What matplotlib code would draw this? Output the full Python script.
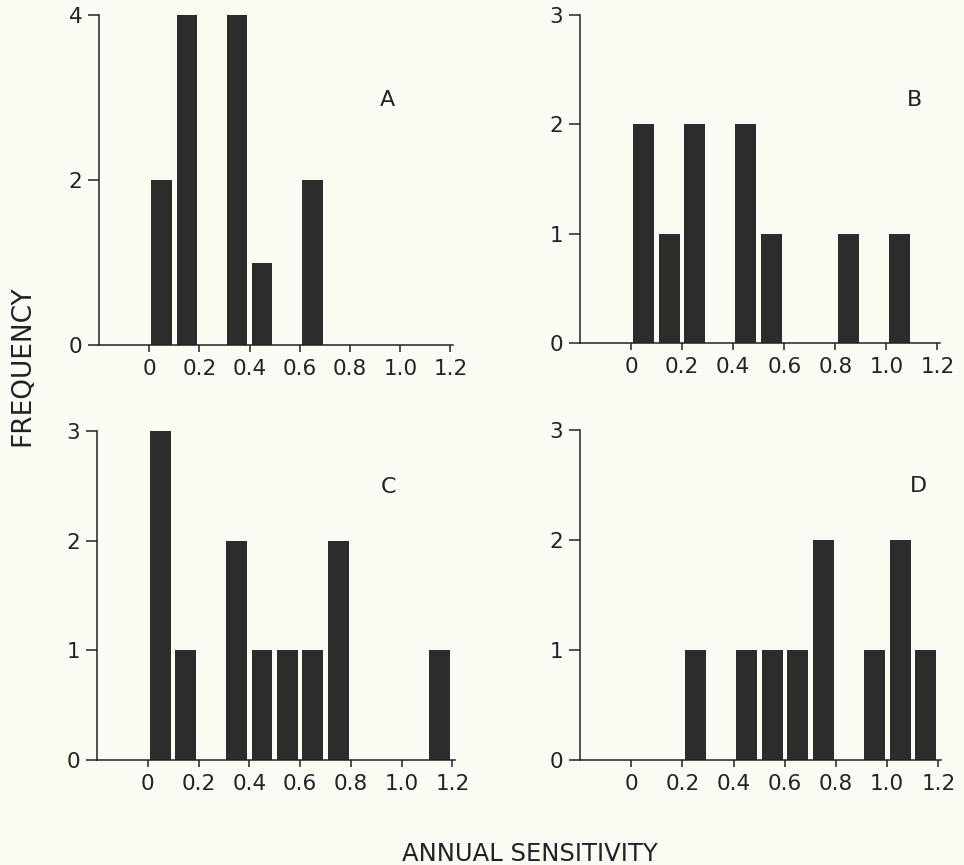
import numpy as np
import matplotlib.pyplot as plt

plt.rcParams['font.family'] = ['DejaVu Sans']

# bin centres of annual sensitivity (0.1 wide bins)
bins = np.arange(0.05, 1.2, 0.1)
freq_a = [2, 4, 0, 4, 1, 0, 2, 0, 0, 0, 0, 0]
freq_b = [2, 1, 2, 0, 2, 1, 0, 0, 1, 0, 1, 0]
freq_c = [3, 1, 0, 2, 1, 1, 1, 2, 0, 0, 0, 1]
freq_d = [0, 0, 1, 0, 1, 1, 1, 2, 0, 1, 2, 1]
panel_names = ["A", "B", "C", "D"]
ymax = [4, 3, 3, 3]
yticks = [[0, 2, 4], [0, 1, 2, 3], [0, 1, 2, 3], [0, 1, 2, 3]]
xticks = [0, 0.2, 0.4, 0.6, 0.8, 1.0, 1.2]
xlabels = ["0", "0.2", "0.4", "0.6", "0.8", "1.0", "1.2"]

bg = "#fbfbf4"
bar_col = "#2e2c2a"
ink = "#222222"

fig = plt.figure(figsize=(9.64, 8.65), dpi=100, facecolor=bg)
W, H = 964, 865
# axes boxes in pixels: left, right, top, bottom
boxes = [(99, 453, 15, 345), (580, 940, 15, 343),
         (97, 455, 431, 760), (580, 941, 430, 760)]
label_pos = [(0.95, 2.97), (1.11, 2.22), (0.95, 2.49), (1.12, 2.49)]

for i, f in enumerate([freq_a, freq_b, freq_c, freq_d]):
    l, r, t, b = boxes[i]
    ax = fig.add_axes([l / W, 1 - b / H, (r - l) / W, (b - t) / H])
    ax.set_facecolor(bg)
    ax.bar(bins, f, width=0.082, color=bar_col, edgecolor="none")
    ax.set_xlim(-0.2, 1.21)
    ax.set_ylim(0, ymax[i])
    ax.spines["top"].set_visible(False)
    ax.spines["right"].set_visible(False)
    for s in ["left", "bottom"]:
        ax.spines[s].set_linewidth(1.1)
        ax.spines[s].set_color(ink)
    ax.set_xticks(xticks)
    ax.set_xticklabels(xlabels)
    ax.set_yticks(yticks[i])
    ax.tick_params(axis="both", direction="out", width=1.1,
                   labelsize=15.5, colors=ink)
    ax.tick_params(axis="x", length=5, pad=5)
    ax.tick_params(axis="y", length=8, pad=4)
    ax.text(label_pos[i][0], label_pos[i][1], panel_names[i],
            fontsize=16, color=ink, ha="center", va="center")

fig.text(22 / W, 1 - 366 / H, "FREQUENCY", rotation=90, fontsize=19,
         ha="center", va="center", color=ink)
fig.text(530 / W, 1 - 854 / H, "ANNUAL SENSITIVITY", fontsize=17.5,
         ha="center", va="center", color=ink)

fig.savefig("out.png", dpi=100, facecolor=bg)
